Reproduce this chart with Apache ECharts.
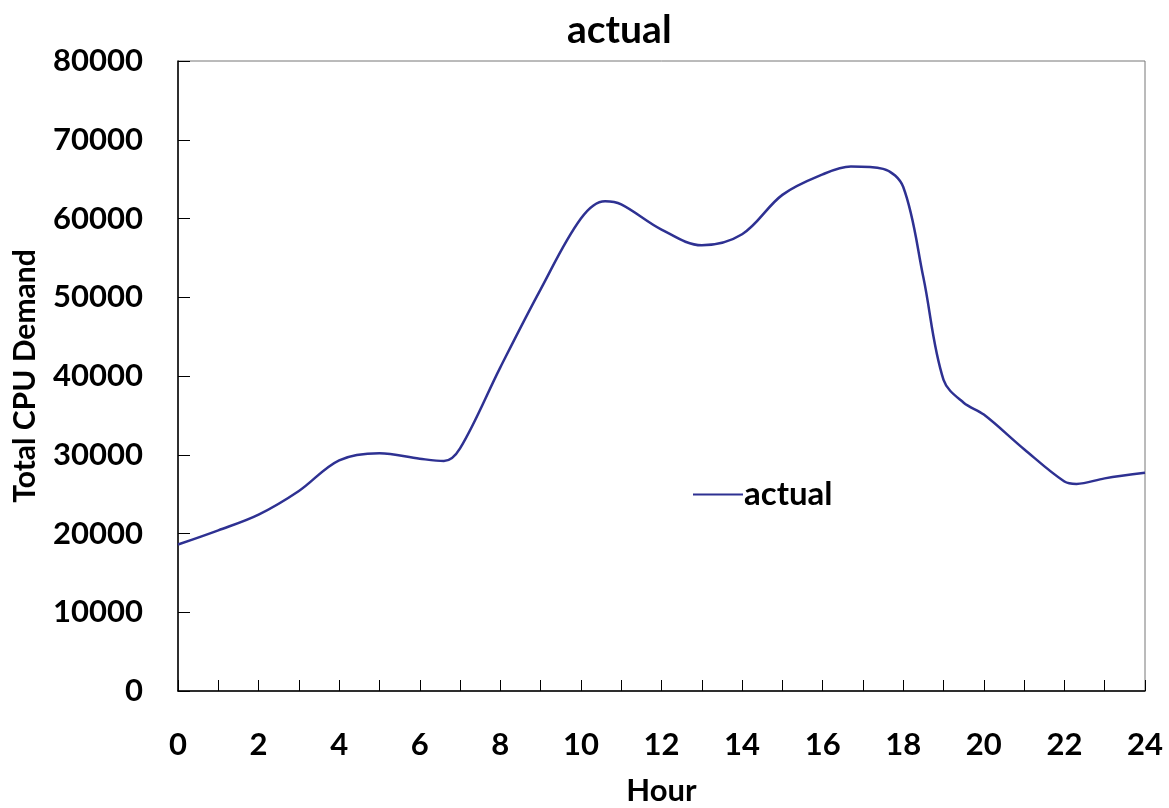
<!DOCTYPE html>
<html>
<head>
<meta charset="utf-8">
<script src="https://cdn.jsdelivr.net/npm/echarts@6/dist/echarts.min.js"></script>
<style>
html,body{margin:0;padding:0;background:#fff;}
#c{width:1169px;height:808px;}
</style>
</head>
<body>
<div id="c"></div>
<script>
const hours  = [0, 1, 2, 3, 4, 5, 6, 6.6, 7, 8, 9, 10, 10.6, 11, 12, 13, 14, 15, 16, 16.7, 17.5, 18, 18.5, 19, 19.5, 20, 21, 22, 22.3, 23, 24];
const actual = [18600, 20400, 22400, 25400, 29300, 30200, 29500, 29200, 30800, 41100, 51000, 60000, 62200, 61800, 58600, 56600, 58000, 63000, 65600, 66600, 66300, 64000, 52500, 39500, 36600, 35100, 30700, 26600, 26300, 27000, 27700];
const yTicks = [0, 10000, 20000, 30000, 40000, 50000, 60000, 70000, 80000];

const FONT = 'Lato, "Open Sans", sans-serif';
const W = 'bold';
const chart = echarts.init(document.getElementById('c'));
chart.setOption({
  backgroundColor: '#fff',
  animation: false,
  title: {
    text: 'actual', left: 562, top: 6,
    textStyle: { fontFamily: FONT, fontSize: 39, fontWeight: W, color: '#000' }
  },
  legend: {
    left: 688, top: 473,
    icon: 'rect', itemWidth: 50, itemHeight: 2, itemGap: 10,
    textStyle: { fontFamily: FONT, fontSize: 33, fontWeight: W, color: '#000', padding: [0,0,0,-4] },
    data: ['actual']
  },
  grid: {
    left: 178, right: 24, top: 61, bottom: 117,
    show: true, borderColor: '#777', borderWidth: 1,
    containLabel: false, outerBoundsMode: 'none'
  },
  xAxis: {
    type: 'value', min: 0, max: 24, interval: 1,
    name: 'Hour', nameLocation: 'middle', nameGap: 84,
    nameTextStyle: { fontFamily: FONT, fontSize: 31, fontWeight: W, color: '#000' },
    axisLine: { show: true, lineStyle: { color: '#000', width: 1.5 } },
    axisTick: { show: true, inside: true, length: 11, lineStyle: { color: '#000' } },
    axisLabel: {
      fontFamily: FONT, fontSize: 31, fontWeight: W, color: '#000', margin: 38,
      formatter: v => (v % 2 === 0 ? String(v) : '')
    },
    splitLine: { show: false }
  },
  yAxis: {
    type: 'value', min: yTicks[0], max: yTicks[yTicks.length - 1], interval: 10000,
    name: 'Total CPU Demand', nameLocation: 'middle', nameGap: 138, nameRotate: 90,
    nameTextStyle: { fontFamily: FONT, fontSize: 30, fontWeight: W, color: '#000' },
    axisLine: { show: true, lineStyle: { color: '#000', width: 1.5 } },
    axisTick: { show: true, inside: true, length: 12, lineStyle: { color: '#000' } },
    axisLabel: { fontFamily: FONT, fontSize: 31, fontWeight: W, color: '#000', margin: 35,
      formatter: v => String(v) },
    splitLine: { show: false }
  },
  series: [{
    name: 'actual', type: 'line', smooth: 0.35, showSymbol: false,
    data: hours.map((h, i) => [h, actual[i]]),
    lineStyle: { color: '#2E3192', width: 2.5 },
    itemStyle: { color: '#2E3192' }
  }]
});
</script>
</body>
</html>
